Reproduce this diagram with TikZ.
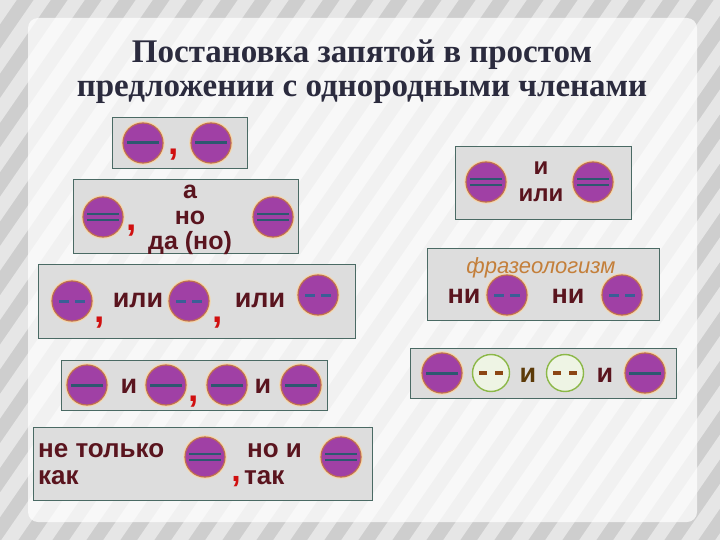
\documentclass[tikz,border=0pt]{standalone}
\usepackage{fontspec}
\setmainfont{Liberation Sans}
\newfontfamily\titlefont{Liberation Serif}

\definecolor{bgc}{RGB}{206,206,206}
\definecolor{stripec}{RGB}{230,230,230}
\definecolor{boxfill}{RGB}{221,221,221}
\definecolor{boxline}{RGB}{74,106,100}
\definecolor{memfill}{RGB}{160,64,165}
\definecolor{memring}{RGB}{190,110,80}
\definecolor{memhalo}{RGB}{245,215,170}
\definecolor{dashc}{RGB}{45,88,112}
\definecolor{splitc}{RGB}{58,95,150}
\definecolor{hollowfill}{RGB}{238,244,228}
\definecolor{hollowring}{RGB}{140,184,72}
\definecolor{brownc}{RGB}{140,70,20}
\definecolor{wordc}{RGB}{90,20,30}
\definecolor{olivec}{RGB}{92,58,8}
\definecolor{commac}{RGB}{208,16,16}
\definecolor{phrasec}{RGB}{196,127,58}
\definecolor{titlec}{RGB}{43,43,62}

\tikzset{
  stripe/.style={draw=stripec, line width=14pt},
  box/.style={draw=boxline, fill=boxfill, line width=0.8pt},
  member/.style={circle, minimum size=40pt, inner sep=0pt, fill=memfill,
    draw=memring, line width=1.2pt, preaction={draw=memhalo, line width=3.5pt}},
  solo/.style={member, path picture={
    \draw[dashc, line width=3pt] ([xshift=-16pt]path picture bounding box.center)
      -- ([xshift=16pt]path picture bounding box.center);}},
  duo/.style={member, path picture={
    \draw[dashc, line width=2.5pt] ([xshift=-16pt,yshift=3pt]path picture bounding box.center)
      -- ([xshift=16pt,yshift=3pt]path picture bounding box.center);
    \draw[dashc, line width=2.5pt] ([xshift=-16pt,yshift=-3pt]path picture bounding box.center)
      -- ([xshift=16pt,yshift=-3pt]path picture bounding box.center);}},
  split/.style={member, path picture={
    \draw[splitc, line width=3pt] ([xshift=-13pt]path picture bounding box.center)
      -- ([xshift=-3pt]path picture bounding box.center);
    \draw[splitc, line width=3pt] ([xshift=3pt]path picture bounding box.center)
      -- ([xshift=13pt]path picture bounding box.center);}},
  hollow/.style={circle, minimum size=37pt, inner sep=0pt, fill=hollowfill,
    draw=hollowring, line width=1.4pt, path picture={
    \draw[brownc, line width=3.5pt] ([xshift=-12pt]path picture bounding box.center)
      -- ([xshift=-4pt]path picture bounding box.center);
    \draw[brownc, line width=3.5pt] ([xshift=4pt]path picture bounding box.center)
      -- ([xshift=12pt]path picture bounding box.center);}},
  word/.style={font=\bfseries\fontsize{27}{24}\selectfont, text=wordc, inner sep=0pt, anchor=base},
  comma/.style={font=\bfseries\fontsize{37}{37}\selectfont, text=commac, inner sep=0pt, anchor=base},
  titletext/.style={font=\titlefont\bfseries\fontsize{33}{33}\selectfont, text=titlec, inner sep=0pt, anchor=base}
}

\begin{document}
\begin{tikzpicture}[x=1pt,y=-1pt]
\useasboundingbox (0,0) rectangle (720,540);
% background
\fill[bgc] (0,0) rectangle (720,540);
\begin{scope}
  \clip (0,0) rectangle (720,540);
  \foreach \i in {-480,-446,...,740}
    \draw[stripe] (\i,560) -- ++(400,-580);
\end{scope}
\fill[white, opacity=0.72, rounded corners=10pt] (28,18) rectangle (697,522);

% title
\node[titletext] (t1) at (362,63) {Постановка запятой в простом};
\node[titletext] (t2) at (362,97) {предложении с однородными членами};

% box 1
\draw[box] (112,117) rectangle (247,168);
\node[solo] (a1) at (143,143) {};
\node[comma] (k1) at (174,155) {,};
\node[solo] (a2) at (211,143) {};

% box 2
\draw[box] (73,179) rectangle (298,253);
\node[duo] (b1) at (103,217) {};
\node[comma] (k2) at (132,230) {,};
\node[word, font=\bfseries\fontsize{25}{25.5}\selectfont, anchor=north, align=center] (w1) at (190,185) {а\\но\\да (но)};
\node[duo] (b2) at (273,217) {};

% box 3
\draw[box] (455,146) rectangle (631,219);
\node[duo] (c1) at (486,182) {};
\node[word, font=\bfseries\fontsize{24}{27}\selectfont, anchor=north, align=center] (w2) at (541,162) {и\\или};
\node[duo] (c2) at (593,182) {};

% box 4
\draw[box] (38,264) rectangle (355,338);
\node[split] (d1) at (72,301) {};
\node[comma] (k3) at (100,322) {,};
\node[word] (w3) at (138,307) {или};
\node[split] (d2) at (189,301) {};
\node[comma] (k4) at (218,322) {,};
\node[word] (w4) at (260,307) {или};
\node[split] (d3) at (318,295) {};

% box 5
\draw[box] (427,248) rectangle (659,320);
\node[font=\itshape\fontsize{22}{22}\selectfont, text=phrasec, inner sep=0pt, anchor=base] (f1) at (541,273) {фразеологизм};
\node[word] (w5) at (464,303) {ни};
\node[split] (e1) at (507,295) {};
\node[word] (w6) at (568,303) {ни};
\node[split] (e2) at (622,295) {};

% box 6
\draw[box] (61,360) rectangle (327,410);
\node[solo] (g1) at (87,385) {};
\node[word] (w7) at (129,393) {и};
\node[solo] (g2) at (166,385) {};
\node[comma] (k5) at (194,401) {,};
\node[solo] (g3) at (227,385) {};
\node[word] (w8) at (263,393) {и};
\node[solo] (g4) at (301,385) {};

% box 7
\draw[box] (410,348) rectangle (676,398);
\node[solo] (h1) at (442,373) {};
\node[hollow] (h2) at (491,373) {};
\node[word, text=olivec] (w9) at (528,382) {и};
\node[hollow] (h3) at (565,373) {};
\node[word] (w10) at (605,382) {и};
\node[solo] (h4) at (645,373) {};

% box 8
\draw[box] (33,427) rectangle (372,500);
\node[word, font=\bfseries\fontsize{26}{27}\selectfont, anchor=north west, align=left] (w11) at (38,443) {не только\\как};
\node[duo] (m1) at (205,457) {};
\node[comma, font=\bfseries\fontsize{34}{34}\selectfont] (k6) at (236,481) {,};
\node[word, font=\bfseries\fontsize{26}{27}\selectfont, anchor=north west, align=left] (w12) at (244,443) {\hspace{3pt}но и\\так};
\node[duo] (m2) at (341,457) {};
\end{tikzpicture}
\end{document}
